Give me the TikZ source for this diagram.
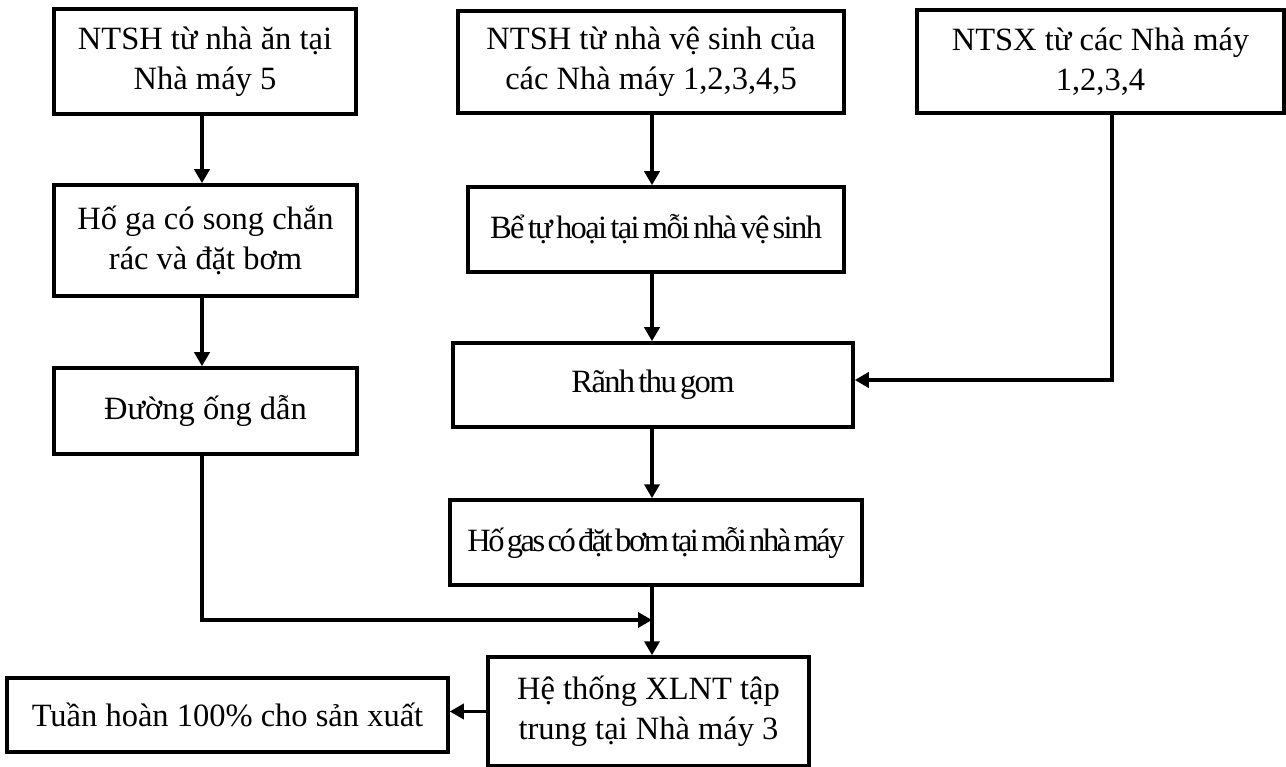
\documentclass[tikz,border=0pt]{standalone}
\usepackage{fontspec}
\setmainfont{Liberation Serif}
\newfontfamily\tightfont[LetterSpace=-5,WordSpace=0.5]{Liberation Serif}
\newfontfamily\tighterfont[LetterSpace=-7.5,WordSpace=0.4]{Liberation Serif}
\usetikzlibrary{arrows.meta}
\begin{document}
\begin{tikzpicture}[x=1pt,y=-1pt,
  box/.style={draw,line width=3.5pt,inner sep=0pt,align=center,
    font=\fontsize{32.5}{40}\selectfont},
  tbox/.style={box,font=\fontsize{32.5}{40}\selectfont\tightfont},
  ttbox/.style={box,font=\fontsize{32.5}{40}\selectfont\tighterfont},
  arr/.style={line width=3.5pt,-{Triangle[length=14pt,width=15pt]}}]
\useasboundingbox (0,0) rectangle (1286,767);
\node[box,minimum width=302pt,minimum height=105pt] (b1) at (205,61.5) {NTSH từ nhà ăn tại\\Nhà máy 5};
\node[box,minimum width=386pt,minimum height=102pt] (b2) at (651,62) {NTSH từ nhà vệ sinh của\\các Nhà máy 1,2,3,4,5};
\node[box,minimum width=367pt,minimum height=103pt] (b3) at (1100.5,61.5) {NTSX từ các Nhà máy\\1,2,3,4};
\node[box,minimum width=303pt,minimum height=111pt] (b4) at (205.5,240.5) {Hố ga có song chắn\\rác và đặt bơm};
\node[tbox,minimum width=376pt,minimum height=85pt] (b5) at (656,229.5) {Bể tự hoại tại mỗi nhà vệ sinh};
\node[tbox,minimum width=400pt,minimum height=84pt] (b6) at (653,385) {Rãnh thu gom};
\node[box,minimum width=303pt,minimum height=86pt] (b7) at (205.5,411) {Đường ống dẫn};
\node[ttbox,minimum width=412pt,minimum height=85pt] (b8) at (656,542.5) {Hố gas có đặt bơm tại mỗi nhà máy};
\node[box,minimum width=321pt,minimum height=109pt] (b9) at (648.5,711.5) {Hệ thống XLNT tập\\trung tại Nhà máy 3};
\node[box,minimum width=441pt,minimum height=74pt] (b10) at (227.5,715) {Tuần hoàn 100\% cho sản xuất};
\coordinate (lc) at (202,0);
\coordinate (mc) at (652,0);
\coordinate (rj) at (1112,380);
\coordinate (mj) at (652,620);
\draw[arr] (b1.south -| lc) -- (b4.north -| lc);
\draw[arr] (b4.south -| lc) -- (b7.north -| lc);
\draw[arr] (b2.south -| mc) -- (b5.north -| mc);
\draw[arr] (b5.south -| mc) -- (b6.north -| mc);
\draw[arr] (b6.south -| mc) -- (b8.north -| mc);
\draw[arr] (b8.south -| mc) -- (b9.north -| mc);
\draw[arr] (b3.south -| rj) -- (rj) -- (rj -| b6.east);
\draw[arr] (b7.south -| lc) |- (mj);
\draw[arr] (b9.west) -- (b9.west -| b10.east);
\end{tikzpicture}
\end{document}
